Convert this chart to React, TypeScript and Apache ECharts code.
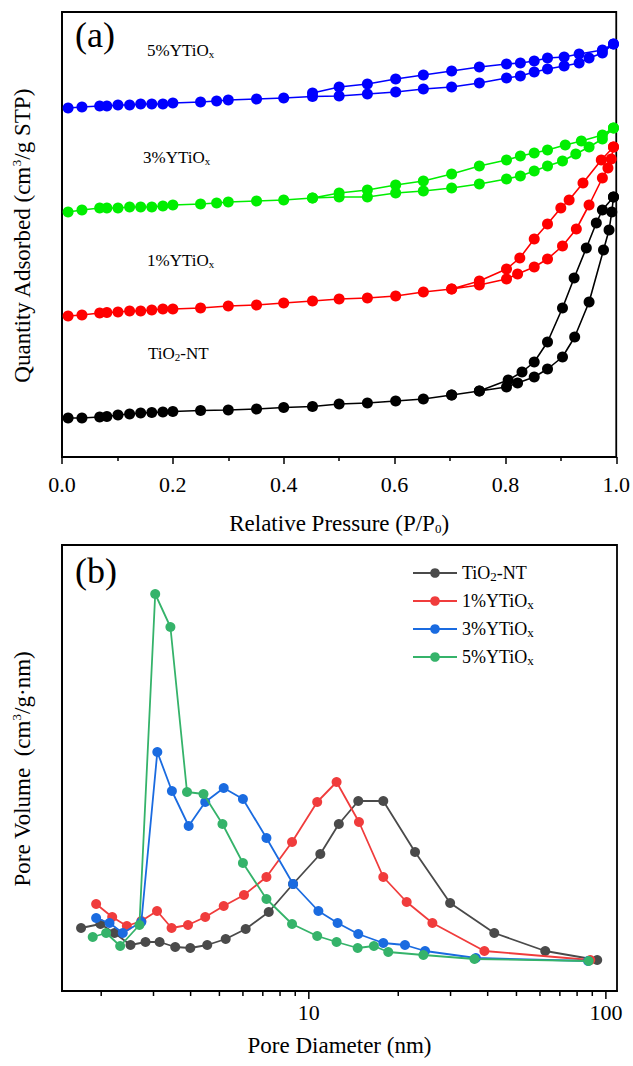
import React, { useEffect, useRef } from "react";
import * as echarts from "echarts";

const FONT = "Liberation Serif, Times New Roman, serif";

// ---------- (a) N2 adsorption–desorption isotherms (curves offset vertically) ----------
// Low-pressure adsorption points
const P_LOW = [0.011, 0.036, 0.068, 0.081, 0.101, 0.122, 0.142, 0.162, 0.182, 0.2, 0.25, 0.3, 0.351, 0.4, 0.452];
const P_LOW_Y = [0.011, 0.036, 0.068, 0.081, 0.101, 0.122, 0.142, 0.162, 0.182, 0.2, 0.25, 0.279, 0.3, 0.351, 0.4, 0.452];

// TiO2-NT
const TIO2_ADS_P = [...P_LOW, 0.5, 0.551, 0.602, 0.652, 0.703, 0.753, 0.802, 0.822, 0.852, 0.876, 0.903, 0.925, 0.951, 0.977, 0.987, 0.992, 0.995];
const TIO2_ADS_Q = [39, 39, 40, 40.5, 42, 43, 44, 44.5, 45, 45.5, 46.5, 47, 48, 49.5, 50.5, 53, 54, 56, 58, 62, 66, 70, 74, 80, 88, 100, 120, 155, 207, 227, 245, 260];
const TIO2_DES_P = [0.995, 0.975, 0.964, 0.946, 0.924, 0.903, 0.876, 0.852, 0.83, 0.805, 0.753, 0.703];
const TIO2_DES_Q = [260, 247, 234, 209, 179, 149, 115, 95, 85, 77, 66, 62];

// 1%YTiOx
const Y1_ADS_P = [...P_LOW, 0.5, 0.551, 0.602, 0.652, 0.703, 0.753, 0.802, 0.822, 0.852, 0.876, 0.903, 0.928, 0.951, 0.975, 0.985, 0.991, 0.995];
const Y1_ADS_Q = [141, 142, 144, 144.5, 145, 146, 146, 147, 148, 148, 149, 151, 152, 154, 156, 158, 159, 161, 165, 168, 172, 178, 183, 190, 198, 211, 228, 252, 279, 289, 298, 310];
const Y1_DES_P = [0.995, 0.973, 0.94, 0.915, 0.9, 0.876, 0.852, 0.826, 0.802, 0.753, 0.703];
const Y1_DES_Q = [310, 297, 274, 257, 249, 233, 218, 199, 188, 176, 168];

// 3%YTiOx
const Y3_ADS_P = [...P_LOW_Y, 0.5, 0.551, 0.602, 0.652, 0.703, 0.753, 0.802, 0.827, 0.852, 0.876, 0.903, 0.927, 0.951, 0.975, 0.995];
const Y3_ADS_Q = [245, 247, 249, 249, 249, 250, 250, 250, 251, 252, 253, 254, 255, 256, 257, 259, 260, 260, 264, 266, 269, 273, 278, 281, 286, 291, 296, 303, 310, 318, 329];
const Y3_DES_P = [0.995, 0.975, 0.937, 0.908, 0.876, 0.852, 0.827, 0.802, 0.753, 0.703, 0.652, 0.602, 0.551, 0.5, 0.452];
const Y3_DES_Q = [329, 322, 316, 312, 307, 304, 301, 297, 291, 283, 276, 272, 267, 264, 259];

// 5%YTiOx
const Y5_ADS_P = [...P_LOW_Y, 0.5, 0.551, 0.602, 0.652, 0.703, 0.753, 0.802, 0.827, 0.852, 0.876, 0.906, 0.933, 0.951, 0.975, 0.995];
const Y5_ADS_Q = [349, 350, 351, 351, 352, 352, 353, 353, 353, 354, 355, 356, 357, 358, 359, 360.5, 361, 363, 365, 368, 370, 374, 379, 381, 385, 388, 391, 394, 399, 404, 413];
const Y5_DES_P = [0.995, 0.975, 0.933, 0.906, 0.876, 0.852, 0.827, 0.802, 0.753, 0.703, 0.652, 0.602, 0.551, 0.5, 0.452];
const Y5_DES_Q = [413, 407, 403, 400, 399, 396, 394, 393, 390, 386, 382, 378, 373, 370, 364];

// ---------- (b) BJH pore size distribution ----------
const TIO2_D = [1.711, 1.988, 2.217, 2.51, 2.82, 3.145, 3.55, 3.99, 4.55, 5.25, 6.13, 7.33, 8.85, 10.93, 12.62, 14.67, 17.81, 22.78, 29.9, 42.1, 62.5, 93.5];
const TIO2_V = [63, 67, 58, 46, 49, 49, 44, 43, 46, 52, 62, 79, 107, 137, 167, 190, 190, 139, 88, 58, 40, 31];

const Y1_D = [1.923, 2.178, 2.44, 2.73, 3.083, 3.451, 3.92, 4.48, 5.17, 6.05, 7.2, 8.78, 10.67, 12.4, 14.75, 17.81, 21.35, 26.06, 39.0, 88.6];
const Y1_V = [87, 74, 65, 70, 80, 63, 66, 74, 85, 96, 114, 149, 189, 209, 169, 114, 89, 68, 40, 31];

const Y3_D = [1.923, 2.133, 2.364, 2.73, 3.09, 3.46, 3.94, 4.48, 5.17, 6.0, 7.2, 8.85, 10.77, 12.5, 14.67, 17.81, 21.07, 24.62, 36.5, 87.1];
const Y3_V = [73, 68, 58, 69, 239, 200, 165, 189, 203, 192, 153, 107, 80, 68, 57, 48, 46, 40, 33, 30];

const Y5_D = [1.873, 2.078, 2.317, 2.69, 3.04, 3.42, 3.89, 4.42, 5.12, 6.0, 7.2, 8.78, 10.67, 12.4, 14.6, 16.56, 18.51, 24.3, 36.1, 87.5];
const Y5_V = [54, 58, 45, 66, 397, 364, 199, 197, 167, 128, 92, 67, 55, 49, 43, 45, 39, 36, 32, 30];

const PSD_MAJOR_TICKS = [10, 100];
const PSD_MINOR_TICKS = [2, 3, 4, 5, 6, 7, 8, 9, 20, 30, 40, 50, 60, 70, 80, 90];

const SAMPLE_NAMES = ["TiO2-NT", "1%YTiOx", "3%YTiOx", "5%YTiOx"];
const SAMPLE_RICH = ["TiO{sub|2}-NT", "1%YTiO{sub|x}", "3%YTiO{sub|x}", "5%YTiO{sub|x}"];
const ISO_COLORS = ["#000000", "#ff0000", "#00ee00", "#0000ff"];
const PSD_COLORS = ["#4a4a4a", "#f03c3c", "#1a6be0", "#35b36a"];

const zip = (xs: number[], ys: number[]) => xs.map((x, i) => [x, ys[i]]);

export default function App() {
  const ref = useRef<HTMLDivElement>(null);

  useEffect(() => {
    document.body.style.margin = "0";
    if (!ref.current) return;
    const chart = echarts.init(ref.current, undefined, { renderer: "svg" });

    const isoData = [
      [...zip(TIO2_ADS_P, TIO2_ADS_Q), ...zip(TIO2_DES_P, TIO2_DES_Q)],
      [...zip(Y1_ADS_P, Y1_ADS_Q), ...zip(Y1_DES_P, Y1_DES_Q)],
      [...zip(Y3_ADS_P, Y3_ADS_Q), ...zip(Y3_DES_P, Y3_DES_Q)],
      [...zip(Y5_ADS_P, Y5_ADS_Q), ...zip(Y5_DES_P, Y5_DES_Q)],
    ];
    const psdData = [zip(TIO2_D, TIO2_V), zip(Y1_D, Y1_V), zip(Y3_D, Y3_V), zip(Y5_D, Y5_V)];

    const subRich = {
      sub: { fontFamily: FONT, fontSize: 13, lineHeight: 13, verticalAlign: "bottom", color: "#000" },
      sup: { fontFamily: FONT, fontSize: 13, lineHeight: 13, verticalAlign: "top", color: "#000" },
    };
    const gSubRich = {
      sub: { fontFamily: FONT, fontSize: 11, lineHeight: 11, verticalAlign: "bottom", fill: "#000" },
      sup: { fontFamily: FONT, fontSize: 13, lineHeight: 13, verticalAlign: "top", fill: "#000" },
    };

    const isoLabelPos = [
      [148, 353],
      [147, 260],
      [143, 157],
      [147, 50],
    ];

    const option: any = {
      animation: false,
      backgroundColor: "#fff",
      textStyle: { fontFamily: FONT },
      grid: [
        { left: 62, top: 12, width: 555, height: 445, show: true, borderColor: "#000", borderWidth: 1.8, backgroundColor: "transparent" },
        { left: 62, top: 545, width: 555, height: 446, show: true, borderColor: "#000", borderWidth: 1.8, backgroundColor: "transparent" },
      ],
      xAxis: [
        {
          gridIndex: 0,
          type: "value",
          min: 0,
          max: 1,
          interval: 0.2,
          axisLine: { show: true, lineStyle: { color: "#000", width: 1.8 } },
          axisTick: { show: true, inside: false, length: 7, lineStyle: { color: "#000", width: 1.5 } },
          minorTick: { show: true, splitNumber: 2, length: 4, lineStyle: { color: "#000", width: 1.5 } },
          splitLine: { show: false },
          axisLabel: {
            fontFamily: FONT,
            fontSize: 22,
            color: "#000",
            margin: 16,
            formatter: (v: number) => v.toFixed(1),
          },
          name: "Relative Pressure (P/P{sub|0})",
          nameLocation: "middle",
          nameGap: 54,
          nameTextStyle: { fontFamily: FONT, fontSize: 23, color: "#000", lineHeight: 24, rich: subRich },
        },
        {
          gridIndex: 1,
          type: "log",
          logBase: 10,
          min: 1.476,
          max: 109,
          axisLine: { show: true, lineStyle: { color: "#000", width: 1.8 } },
          axisTick: { show: false },
          splitLine: { show: false },
          axisLabel: {
            fontFamily: FONT,
            fontSize: 22,
            color: "#000",
            margin: 10,
            showMinLabel: false,
            showMaxLabel: false,
            formatter: (v: number) => {
              const l = Math.log10(v);
              return Math.abs(l - Math.round(l)) < 1e-6 && v >= 9.9 && v <= 101 ? String(Math.round(v)) : "";
            },
          },
          name: "Pore Diameter (nm)",
          nameLocation: "middle",
          nameGap: 43,
          nameTextStyle: { fontFamily: FONT, fontSize: 23, color: "#000" },
        },
      ],
      yAxis: [
        {
          gridIndex: 0,
          type: "value",
          min: 0,
          max: 445,
          axisLine: { show: true, lineStyle: { color: "#000", width: 1.8 } },
          axisTick: { show: false },
          axisLabel: { show: false },
          splitLine: { show: false },
        },
        {
          gridIndex: 1,
          type: "value",
          min: 0,
          max: 446,
          axisLine: { show: true, lineStyle: { color: "#000", width: 1.8 } },
          axisTick: { show: false },
          axisLabel: { show: false },
          splitLine: { show: false },
        },
      ],
      legend: {
        data: SAMPLE_NAMES,
        orient: "vertical",
        left: 412,
        top: 563,
        padding: 0,
        itemWidth: 44,
        itemHeight: 12,
        itemGap: 8,
        selectedMode: false,
        formatter: (name: string) => SAMPLE_RICH[SAMPLE_NAMES.indexOf(name)],
        textStyle: { fontFamily: FONT, fontSize: 18, color: "#000", lineHeight: 20, rich: subRich },
      },
      series: [
        ...isoData.map((d, i) => ({
          name: "iso " + SAMPLE_NAMES[i],
          type: "line",
          xAxisIndex: 0,
          yAxisIndex: 0,
          data: d,
          symbol: "circle",
          symbolSize: 11,
          showSymbol: true,
          color: ISO_COLORS[i],
          lineStyle: { width: 1.6, color: ISO_COLORS[i] },
          itemStyle: { color: ISO_COLORS[i] },
          z: 3 + i,
        })),
        ...psdData.map((d, i) => ({
          name: SAMPLE_NAMES[i],
          type: "line",
          xAxisIndex: 1,
          yAxisIndex: 1,
          data: d,
          symbol: "circle",
          symbolSize: 10,
          showSymbol: true,
          color: PSD_COLORS[i],
          lineStyle: { width: 1.8, color: PSD_COLORS[i] },
          itemStyle: { color: PSD_COLORS[i] },
          z: 3 + i,
        })),
        {
          name: "log ticks",
          type: "custom",
          xAxisIndex: 1,
          yAxisIndex: 1,
          silent: true,
          clip: false,
          z: 10,
          data: [...PSD_MAJOR_TICKS.map((v) => [v, 0, 1]), ...PSD_MINOR_TICKS.map((v) => [v, 0, 0])],
          renderItem: (_params: any, api: any) => {
            const p = api.coord([api.value(0), 0]);
            const len = api.value(2) ? 8 : 5;
            return {
              type: "line",
              shape: { x1: p[0], y1: p[1], x2: p[0], y2: p[1] + len },
              style: { stroke: "#000", lineWidth: 1.5 },
            };
          },
        },
      ],
      graphic: [
        {
          type: "text",
          x: 95,
          y: 35,
          style: { text: "(a)", fontFamily: FONT, fontSize: 36, fill: "#000", align: "center", verticalAlign: "middle" },
        },
        {
          type: "text",
          x: 96,
          y: 571,
          style: { text: "(b)", fontFamily: FONT, fontSize: 36, fill: "#000", align: "center", verticalAlign: "middle" },
        },
        ...SAMPLE_RICH.map((t, i) => ({
          type: "text",
          x: isoLabelPos[i][0],
          y: isoLabelPos[i][1],
          style: {
            text: t,
            fontFamily: FONT,
            fontSize: 17,
            lineHeight: 19,
            fill: "#000",
            align: "left",
            verticalAlign: "middle",
            rich: gSubRich,
          },
        })),
        {
          type: "text",
          x: 22,
          y: 236,
          rotation: Math.PI / 2,
          style: {
            text: "Quantity Adsorbed (cm{sup|3}/g STP)",
            fontFamily: FONT,
            fontSize: 23,
            lineHeight: 25,
            fill: "#000",
            align: "center",
            verticalAlign: "middle",
            rich: gSubRich,
          },
        },
        {
          type: "text",
          x: 22,
          y: 769,
          rotation: Math.PI / 2,
          style: {
            text: "Pore Volume  (cm{sup|3}/g·nm)",
            fontFamily: FONT,
            fontSize: 23,
            lineHeight: 25,
            fill: "#000",
            align: "center",
            verticalAlign: "middle",
            rich: gSubRich,
          },
        },
      ],
    };

    chart.setOption(option);
    return () => chart.dispose();
  }, []);

  return <div ref={ref} style={{ width: 633, height: 1066 }} />;
}
